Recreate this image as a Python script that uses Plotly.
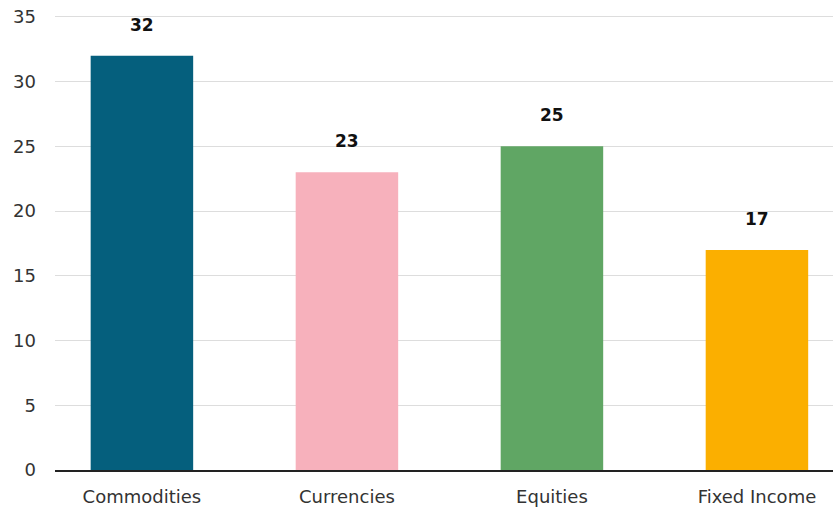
import plotly.graph_objects as go

categories = ["Commodities", "Currencies", "Equities", "Fixed Income"]
values = [32, 23, 25, 17]
colors = ["#055f7d", "#f7b1bc", "#60a664", "#fbaf00"]
y_ticks = [0, 5, 10, 15, 20, 25, 30, 35]

fig = go.Figure(
    go.Bar(
        x=categories,
        y=values,
        marker=dict(color=colors, line=dict(width=0)),
        width=0.5,
        hoverinfo="x+y",
    )
)

# value labels above the bars
for c, v in zip(categories, values):
    fig.add_annotation(
        x=c, y=v, text="<b>%d</b>" % v, showarrow=False,
        yanchor="bottom", yshift=19,
        font=dict(family="DejaVu Sans", size=17, color="#111111"),
    )

fig.update_layout(
    width=833,
    height=509,
    margin=dict(l=55, r=0, t=13, b=39),
    plot_bgcolor="white",
    paper_bgcolor="white",
    showlegend=False,
    font=dict(family="DejaVu Sans", size=18, color="#333333"),
    xaxis=dict(
        range=[-0.424, 3.371],
        showgrid=False,
        showline=True,
        linecolor="#222222",
        linewidth=2,
        ticks="",
        ticklabelstandoff=9,
    ),
    yaxis=dict(
        range=[0, 35.3],
        tickvals=y_ticks,
        showgrid=True,
        gridcolor="#dddddd",
        gridwidth=1,
        zeroline=False,
        showline=False,
        ticks="",
        ticklabelstandoff=18,
    ),
)

# drop the default body margin so the figure fills the window exactly
fig.write_html(
    "out.html",
    config={"displayModeBar": False},
    post_script="document.body.style.margin='0';",
)
